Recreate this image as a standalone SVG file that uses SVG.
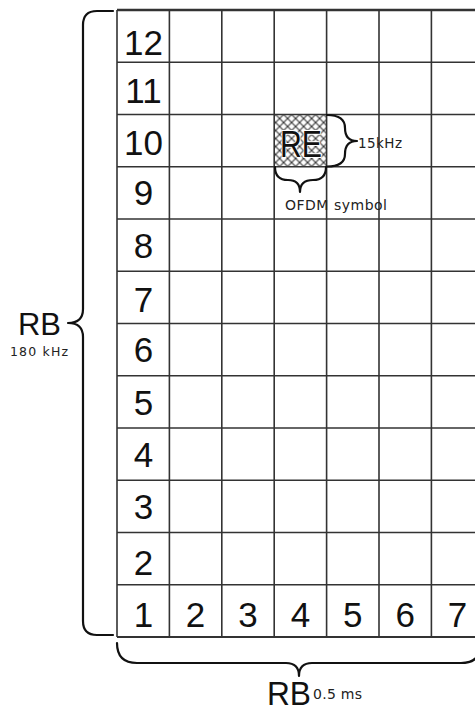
<svg xmlns="http://www.w3.org/2000/svg" width="475" height="711" viewBox="0 0 475 711">
  <style>
    .grid line { stroke: #333; stroke-width: 1.6; }
    .num { font-family: "Liberation Sans", Arial, sans-serif; font-size: 35px; fill: #111; text-anchor: middle; }
    .brace { fill: none; stroke: #111; stroke-width: 2.2; stroke-linecap: round; stroke-linejoin: round; }
    .small { font-family: "DejaVu Sans", "Liberation Sans", sans-serif; fill: #222; }
    .big { font-family: "Liberation Sans", Arial, sans-serif; fill: #111; }
  </style>
  <defs>
    <pattern id="hatch" patternUnits="userSpaceOnUse" width="8" height="8" x="275.6" y="114.5">
      <path d="M0,0 L8,8 M8,0 L0,8" stroke="#333" stroke-width="1.1" fill="none"/>
    </pattern>
  </defs>
  <rect x="0" y="0" width="475" height="711" fill="#fff"/>

  <g id="re-cell">
    <rect x="274.2" y="114.5" width="52.4" height="52.25" fill="url(#hatch)"/>
    <text class="big" x="280" y="157" font-size="37" textLength="42" lengthAdjust="spacingAndGlyphs" stroke="#fff" stroke-width="2" paint-order="stroke">RE</text>
  </g>

  <g id="grid" class="grid">
    <line x1="117" y1="10" x2="475" y2="10" style="stroke-width:2.6"/>
    <line x1="117" y1="62.25" x2="475" y2="62.25"/>
    <line x1="117" y1="114.5" x2="475" y2="114.5"/>
    <line x1="117" y1="166.75" x2="475" y2="166.75"/>
    <line x1="117" y1="219" x2="475" y2="219"/>
    <line x1="117" y1="271.25" x2="475" y2="271.25"/>
    <line x1="117" y1="323.5" x2="475" y2="323.5"/>
    <line x1="117" y1="375.75" x2="475" y2="375.75"/>
    <line x1="117" y1="428" x2="475" y2="428"/>
    <line x1="117" y1="480.25" x2="475" y2="480.25"/>
    <line x1="117" y1="532.5" x2="475" y2="532.5"/>
    <line x1="117" y1="584.75" x2="475" y2="584.75"/>
    <line x1="117" y1="637" x2="475" y2="637" style="stroke-width:2"/>
    <line x1="117" y1="10" x2="117" y2="637"/>
    <line x1="169.4" y1="10" x2="169.4" y2="637"/>
    <line x1="221.8" y1="10" x2="221.8" y2="637"/>
    <line x1="274.2" y1="10" x2="274.2" y2="637"/>
    <line x1="326.6" y1="10" x2="326.6" y2="637"/>
    <line x1="379" y1="10" x2="379" y2="637"/>
    <line x1="431.4" y1="10" x2="431.4" y2="637"/>
  </g>

  <g id="row-labels">
    <text class="num" x="143.5" y="55">12</text>
    <text class="num" x="143.5" y="103">11</text>
    <text class="num" x="143.5" y="155">10</text>
    <text class="num" x="143.5" y="205">9</text>
    <text class="num" x="143.5" y="258">8</text>
    <text class="num" x="143.5" y="312">7</text>
    <text class="num" x="143.5" y="362">6</text>
    <text class="num" x="143.5" y="415">5</text>
    <text class="num" x="143.5" y="467">4</text>
    <text class="num" x="143.5" y="519">3</text>
    <text class="num" x="143.5" y="575">2</text>
    <text class="num" x="143.5" y="627">1</text>
  </g>
  <g id="col-labels">
    <text class="num" x="195.6" y="627">2</text>
    <text class="num" x="248" y="627">3</text>
    <text class="num" x="300.4" y="627">4</text>
    <text class="num" x="352.8" y="627">5</text>
    <text class="num" x="405.2" y="627">6</text>
    <text class="num" x="457.6" y="627">7</text>
  </g>

  <g id="connectors">
    <path class="brace" d="M113,11 L97,11 Q83,11 83,25 L83,309 Q83,323 68,323 Q83,323 83,337 L83,621 Q83,635 97,635 L113,635"/>
    <path class="brace" d="M117,643 Q117,663 137,663 L286,663 Q299,663 299,676 Q299,663 312,663 L461,663 Q481,663 481,643"/>
    <path class="brace" d="M327,115 Q345,115 345,128 Q345,141 357,141 Q345,141 345,154 Q345,166.5 327,166.5"/>
    <path class="brace" d="M275,167 Q275,180 288,180 Q300,180 300,192 Q300,180 313,180 Q326,180 326,167"/>
  </g>

  <g id="rb-vertical">
    <text class="big" x="18" y="335" font-size="32" textLength="43" lengthAdjust="spacingAndGlyphs">RB</text>
    <text class="small" x="10" y="356" font-size="12.5" textLength="58" lengthAdjust="spacing">180 kHz</text>
  </g>
  <g id="rb-horizontal">
    <text class="big" x="267" y="705" font-size="34" textLength="44" lengthAdjust="spacingAndGlyphs">RB</text>
    <text class="small" x="313" y="699" font-size="14" textLength="49" lengthAdjust="spacing">0.5 ms</text>
  </g>
  <g id="re-labels">
    <text class="small" x="358" y="148" font-size="13.5" textLength="44" lengthAdjust="spacing">15kHz</text>
    <text class="small" x="285" y="210" font-size="14" textLength="102" lengthAdjust="spacing">OFDM symbol</text>
  </g>
</svg>
